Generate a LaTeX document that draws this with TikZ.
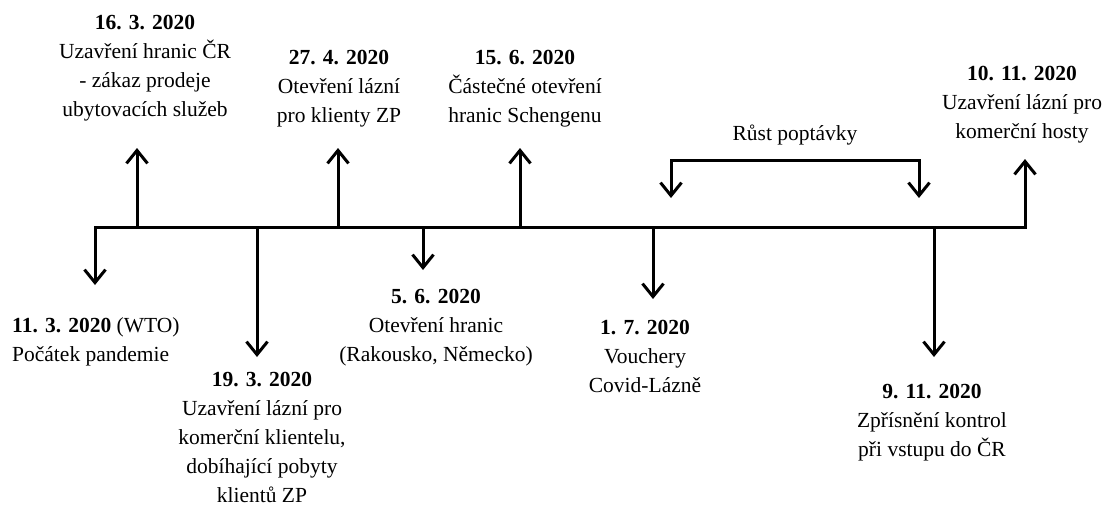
\documentclass[tikz,border=0pt]{standalone}
\usepackage{fontspec}
\setmainfont{Liberation Serif}
\usetikzlibrary{arrows.meta}
\begin{document}
\begin{tikzpicture}[x=1pt,y=-1pt,
  lbl/.style={align=center, inner sep=0pt, font=\fontsize{21.5}{29}\selectfont},
  barb/.tip={Straight Barb[length=13pt,width=21pt]},
  conn/.style={line width=3pt, -barb},
  line/.style={line width=3pt, line join=miter}]
\useasboundingbox (0,0) rectangle (1107,507);

% text blocks
\node[lbl] (e1603) at (145,68) {\textbf{16. 3. 2020}\\Uzavření hranic ČR\\- zákaz prodeje\\ubytovacích služeb};
\node[lbl] (e2704) at (339,89) {\textbf{27. 4. 2020}\\Otevření lázní\\pro klienty ZP};
\node[lbl] (e1506) at (525,88.5) {\textbf{15. 6. 2020}\\Částečné otevření\\hranic Schengenu};
\node[lbl] (rust) at (795,135) {Růst poptávky};
\node[lbl] (e1011) at (1022,105) {\textbf{10. 11. 2020}\\Uzavření lázní pro\\komerční hosty};
\node[lbl, align=left, anchor=west] (e1103) at (12,341.5) {\textbf{11. 3. 2020} (WTO)\\Počátek pandemie};
\node[lbl] (e1903) at (262,437) {\textbf{19. 3. 2020}\\Uzavření lázní pro\\komerční klientelu,\\dobíhající pobyty\\klientů ZP};
\node[lbl] (e0506) at (436,327.5) {\textbf{5. 6. 2020}\\Otevření hranic\\(Rakousko, Německo)};
\node[lbl] (e0107) at (645,356.5) {\textbf{1. 7. 2020}\\Vouchery\\Covid-Lázně};
\node[lbl] (e0911) at (932,423) {\textbf{9. 11. 2020}\\Zpřísnění kontrol\\při vstupu do ČR};

% timeline
\coordinate (L) at (95,227);
\coordinate (R) at (1025,227);
\coordinate (Ld) at (95,285);
\coordinate (Ru) at (1025,159);
\draw[line, barb-barb] (Ld) -- (L) -- (R) -- (Ru);

% upward branches
\coordinate (t1603) at (137,227); \coordinate (a1603) at (137,148);
\coordinate (t2704) at (338,227); \coordinate (a2704) at (338,148);
\coordinate (t1506) at (520,227); \coordinate (a1506) at (520,148);
\draw[conn] (t1603) -- (a1603);
\draw[conn] (t2704) -- (a2704);
\draw[conn] (t1506) -- (a1506);

% downward branches
\coordinate (t1903) at (257,227); \coordinate (a1903) at (257,357);
\coordinate (t0506) at (423,227); \coordinate (a0506) at (423,270);
\coordinate (t0107) at (653,227); \coordinate (a0107) at (653,299);
\coordinate (t0911) at (934,227); \coordinate (a0911) at (934,357);
\draw[conn] (t1903) -- (a1903);
\draw[conn] (t0506) -- (a0506);
\draw[conn] (t0107) -- (a0107);
\draw[conn] (t0911) -- (a0911);

% demand bracket
\coordinate (b1) at (671,198); \coordinate (b1t) at (671,160);
\coordinate (b2t) at (919,160); \coordinate (b2) at (919,198);
\draw[line, barb-barb] (b1) -- (b1t) -- (b2t) -- (b2);
\end{tikzpicture}
\end{document}
